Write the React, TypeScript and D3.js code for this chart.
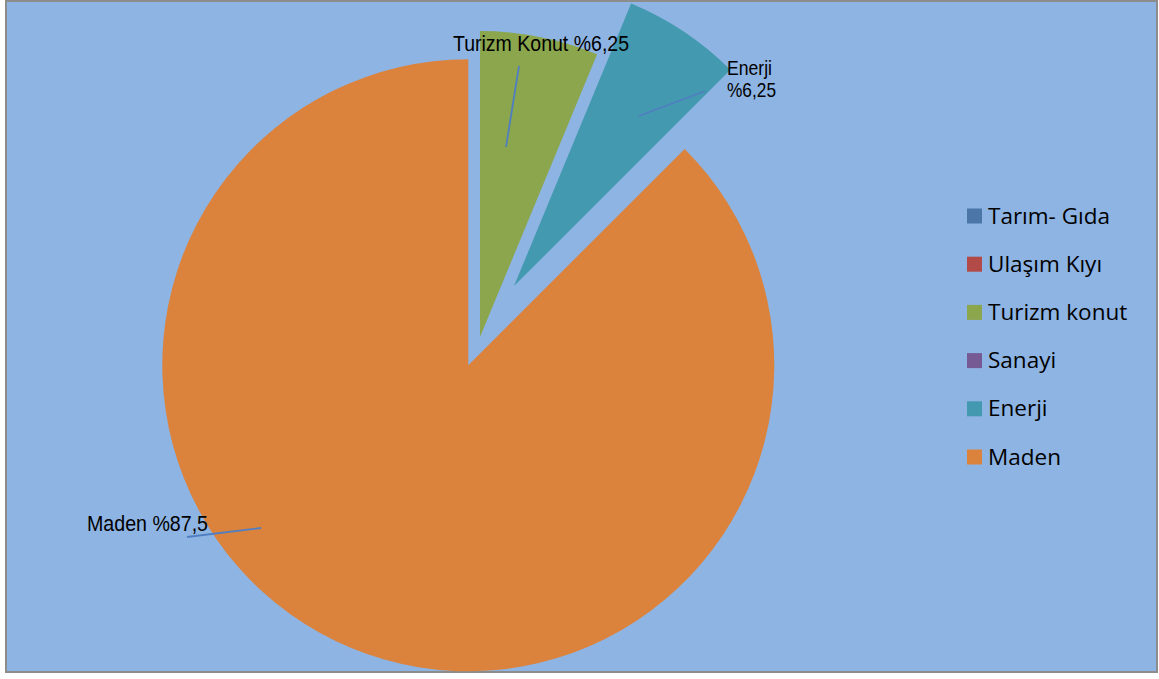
import React from "react";
import * as d3 from "d3";

const categories = ["Tarım- Gıda", "Ulaşım Kıyı", "Turizm konut", "Sanayi", "Enerji", "Maden"];
const values = [0, 0, 1, 0, 1, 14];
const explode = [0, 0, 0, 0, 0.2, 0.1];
const colors = ["#4A76A8", "#B24A47", "#8BA64D", "#765A94", "#4399AF", "#DB833D"];
const dataLabels = [
  { idx: 2, lines: ["Turizm Konut %6,25"] },
  { idx: 4, lines: ["Enerji", "%6,25"] },
  { idx: 5, lines: ["Maden %87,5"] },
];

const W = 1159;
const H = 679;
const CX = 480;
const CY = 337;
const R = 306;

// label layout (positions of label text and leader lines)
const labelLayout: Record<number, { x: number; y: number; lens: number[]; line: [number, number, number, number]; fs: number }> = {
  2: { x: 453, y: 51, lens: [176], line: [519, 66, 506, 147], fs: 22 },
  4: { x: 727, y: 75, lens: [45, 49], line: [705, 91, 639, 116], fs: 21 },
  5: { x: 87, y: 531, lens: [121], line: [187, 537, 261, 528], fs: 22 },
};

export default function App() {
  const pie = d3.pie<number>().sort(null).startAngle(0).endAngle(2 * Math.PI).value((d) => d);
  const arcs = pie(values);
  const arcGen = d3.arc<d3.PieArcDatum<number>>().innerRadius(0).outerRadius(R);
  const legendY = d3.scalePoint<string>().domain(categories).range([216, 457]);

  return (
    <svg width={W} height={H} style={{ position: "absolute", left: 0, top: 0 }}>
      <rect x={6} y={1} width={1151} height={671} fill="#8EB4E3" stroke="#8C8C8C" strokeWidth={2} />
      <g transform={`translate(${CX},${CY})`}>
        {arcs.map((a, i) => {
          if (a.value === 0) return null;
          const mid = (a.startAngle + a.endAngle) / 2;
          const off = explode[i] * R;
          const dx = Math.sin(mid) * off;
          const dy = -Math.cos(mid) * off;
          return (
            <path key={i} d={arcGen(a) || ""} fill={colors[i]} transform={`translate(${dx},${dy})`} />
          );
        })}
      </g>
      {dataLabels.map((l) => {
        const lay = labelLayout[l.idx];
        return (
          <g key={l.idx}>
            <line x1={lay.line[0]} y1={lay.line[1]} x2={lay.line[2]} y2={lay.line[3]} stroke="#4F7FC0" strokeWidth={1.8} />
            {l.lines.map((t, j) => (
              <text
                key={j}
                x={lay.x}
                y={lay.y + j * 21.7}
                fontFamily="'Liberation Sans', Arial, sans-serif"
                fontSize={lay.fs}
                fill="#000"
                textLength={lay.lens[j]}
                lengthAdjust="spacingAndGlyphs"
              >
                {t}
              </text>
            ))}
          </g>
        );
      })}
      <g>
        {categories.map((c, i) => {
          const y = legendY(c) as number;
          return (
            <g key={c}>
              <rect x={967} y={y - 7.5} width={15} height={15} fill={colors[i]} />
              <text x={988} y={y + 7.5} fontFamily="'Open Sans', sans-serif" fontSize={22.5} fill="#000">
                {c}
              </text>
            </g>
          );
        })}
      </g>
    </svg>
  );
}
